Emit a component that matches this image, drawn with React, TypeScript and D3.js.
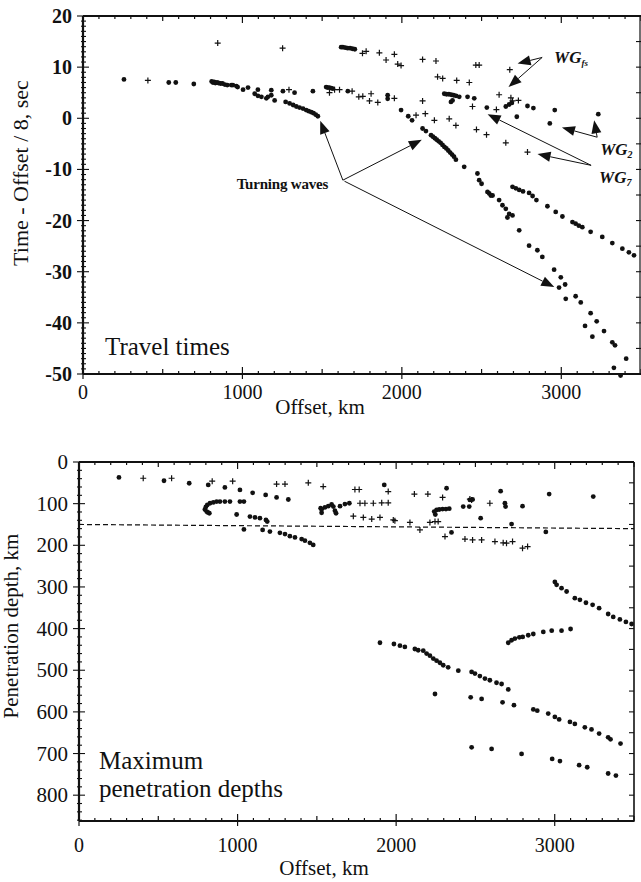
import React from 'react';
import * as d3 from 'd3';

const W = 641;
const H = 882;
const FONT = '"Liberation Serif", "Times New Roman", Times, serif';

// ---- Travel times: [offset km, time - offset/8 (s)] ----
const travelDots: [number, number][] = [
  // first branch
  [257, 7.6], [538, 7.0], [582, 7.0], [695, 6.7], [807, 7.2], [815, 7.0], [822, 7.1], [830, 6.9],
  [840, 7.0], [850, 6.9], [862, 6.8], [875, 6.8], [890, 6.6], [905, 6.5], [930, 6.5], [962, 6.3],
  [940, 6.5], [970, 6.1], [1004, 5.6], [1035, 6.0], [1097, 5.6], [1181, 5.5], [1254, 5.3], [1327, 5.0],
  [1442, 5.3],
  [1077, 4.8], [1097, 4.4], [1119, 4.2], [1150, 3.9], [1160, 4.2], [1181, 4.5], [1202, 3.5], [1271, 3.2],
  [1296, 2.9], [1318, 2.6], [1338, 2.3], [1358, 2.1], [1380, 1.9], [1400, 1.6], [1416, 1.4], [1432, 1.2],
  [1446, 1.0], [1460, 0.7], [1473, 0.4],
  // upper short segment
  [1619, 13.9], [1630, 13.9], [1645, 13.8], [1660, 13.7], [1675, 13.7], [1690, 13.6], [1705, 13.5],
  // middle segment
  [1525, 6.1], [1535, 6.0], [1545, 6.0], [1556, 5.9], [1567, 5.8], [1661, 5.3], [1911, 4.5], [1911, 3.8],
  [1995, 1.6], [2040, 0.4], [2064, -0.4],
  // second turning branch
  [2130, -2.0], [2151, -2.5], [2183, -3.3], [2195, -3.6], [2207, -3.9], [2219, -4.2], [2231, -4.5],
  [2243, -4.8], [2255, -5.2], [2267, -5.6], [2279, -5.9], [2291, -6.3], [2303, -6.7], [2315, -7.1],
  [2327, -7.5], [2339, -8.1], [2391, -9.5], [2474, -10.8], [2485, -12.1], [2500, -12.8], [2537, -14.4],
  [2548, -14.7], [2558, -15.1], [2569, -15.1], [2610, -16.0], [2631, -17.0], [2652, -17.7], [2673, -18.7],
  [2662, -19.4], [2694, -19.0], [2736, -21.9], [2798, -24.9], [2850, -25.8], [2881, -27.1], [2955, -29.6],
  [2997, -31.1], [3024, -32.5], [2986, -33.1], [3028, -35.3], [3090, -34.8], [3122, -36.0], [3184, -38.1],
  [3222, -39.7], [3149, -40.6], [3195, -42.7], [3268, -41.6], [3320, -43.8], [3337, -44.4], [3407, -47.0],
  [3330, -48.8], [3372, -50.3],
  // third segment
  [2266, 4.8], [2280, 4.7], [2295, 4.7], [2310, 4.6], [2325, 4.5], [2340, 4.4], [2360, 4.2], [2412, 4.2],
  [2454, 3.9], [2308, 3.2], [2318, 3.5], [2533, 2.1], [2652, 2.3], [2673, 2.7], [2690, 3.0], [2788, 2.4],
  [2825, 2.0], [2721, 0.3], [2959, 1.6], [2928, -1.0], [3232, 0.8],
  // lower right branch
  [2694, -13.4], [2715, -13.7], [2736, -14.0], [2760, -14.3], [2798, -14.6], [2820, -15.2], [2844, -16.0],
  [2913, -17.2], [2965, -18.3], [3007, -19.2], [3070, -20.3], [3090, -20.6], [3110, -21.0], [3132, -21.3],
  [3184, -22.2], [3257, -23.2], [3320, -24.4], [3383, -25.5], [3424, -26.2], [3456, -26.8],
];

const travelPluses: [number, number][] = [
  [407, 7.4], [845, 14.7], [1252, 13.7], [1292, 5.6],
  [1753, 12.7], [1776, 13.1], [1859, 12.8], [1901, 11.4], [1953, 12.5], [1974, 10.6], [1995, 10.3],
  [2130, 11.5], [2214, 11.2], [2464, 10.4], [2485, 10.4], [2677, 9.5],
  [2224, 8.1], [2256, 7.8], [2344, 7.4], [2423, 7.0],
  [1546, 5.0], [1578, 5.6], [1609, 5.6], [1688, 5.3], [1730, 4.2], [1755, 4.3], [1807, 4.8], [1797, 3.4],
  [1849, 3.1], [1953, 3.9], [2089, 0.6], [2147, 0.9], [2130, 3.4], [2204, -0.4], [2297, -0.1], [2339, -1.4],
  [2443, 2.3], [2593, 1.7], [2610, 4.6], [2684, 4.0], [2731, 3.5], [2694, 3.4],
  [2468, -2.2], [2531, -3.2], [2652, -4.8], [2788, -6.6],
];

// ---- Maximum penetration depths: [offset km, depth km] ----
const depthDots: [number, number][] = [
  [252, 37], [536, 45], [695, 51], [815, 55], [920, 61], [1015, 67], [1095, 74], [1177, 79], [1246, 85],
  [1320, 90],
  [794, 114], [800, 108], [805, 119], [812, 121], [822, 123], [809, 103], [826, 99], [847, 97], [868, 95],
  [889, 95], [920, 95], [952, 95], [1015, 95], [1040, 95],
  [994, 126], [1078, 131], [1110, 133], [1141, 135], [1179, 139], [1187, 143], [1040, 162], [1158, 163],
  [1204, 167], [1267, 170], [1299, 173], [1330, 178], [1362, 181], [1404, 185], [1425, 189], [1456, 194],
  [1477, 199],
  [1524, 111], [1530, 122], [1551, 109], [1572, 106], [1604, 107], [1614, 117], [1621, 123], [1646, 106],
  [1677, 101], [1705, 99], [1530, 114], [1593, 102],
  [2318, 63], [1925, 55], [2659, 70], [2686, 99], [2690, 107], [2797, 106], [2965, 77], [3243, 83],
  [2533, 135], [2728, 149], [2944, 168], [2349, 169],
  [2240, 119], [2247, 126], [2255, 115], [2272, 114], [2293, 113], [2314, 113], [2335, 112],
  [2423, 107], [2461, 107], [2465, 91], [2482, 90],
  [1898, 434], [1986, 437], [2024, 441], [2055, 444], [2118, 449], [2139, 452], [2171, 453], [2192, 460],
  [2213, 465], [2234, 472], [2255, 477], [2276, 482], [2297, 488], [2328, 493], [2392, 501], [2476, 504],
  [2497, 508], [2528, 514], [2560, 520], [2591, 524], [2633, 530], [2665, 533], [2707, 546],
  [2245, 557], [2470, 565], [2539, 569], [2671, 577], [2743, 584], [2865, 594], [2890, 597], [2959, 604],
  [3001, 612], [3028, 618], [3096, 624], [3127, 629], [3190, 637], [3232, 642], [3280, 652], [3337, 661],
  [3352, 666], [3415, 676],
  [2476, 685], [2602, 689], [2791, 701], [2984, 713], [3033, 718], [3154, 728], [3205, 733], [3337, 748],
  [3386, 753],
  [2707, 434], [2728, 428], [2749, 424], [2777, 421], [2798, 420], [2833, 416], [2865, 413], [2928, 408],
  [2981, 405], [3043, 405], [3100, 401],
  [3001, 288], [3012, 295], [3043, 303], [3075, 311], [3127, 327], [3159, 331], [3197, 338], [3239, 343],
  [3280, 351], [3337, 365], [3369, 372], [3411, 378], [3449, 384], [3485, 389],
];

const depthPluses: [number, number][] = [
  [405, 39], [584, 39], [840, 46], [969, 46], [1246, 53], [1299, 53], [1446, 50], [1540, 59], [1740, 66],
  [1767, 66], [1950, 71], [2115, 77], [2200, 77], [2293, 85], [2465, 89], [2476, 91], [2591, 99],
  [1772, 99], [1803, 99], [1856, 99], [1909, 98], [1950, 98],
  [1730, 130], [1793, 133], [1846, 137], [1898, 133], [1982, 139], [1992, 141], [2087, 145], [2150, 163],
  [2213, 145], [2245, 143], [2265, 143], [2308, 179], [2434, 185], [2482, 187], [2539, 187], [2623, 191],
  [2675, 194], [2696, 195], [2734, 191], [2797, 207], [2829, 203],
];

// Reference depth line (dashed)
const depthRefLine: [number, number][] = [[0, 150], [3500, 160]];

const timeTicks = [20, 10, 0, -10, -20, -30, -40, -50];
const depthTicks = [0, 100, 200, 300, 400, 500, 600, 700, 800];
const offsetTicks = [0, 1000, 2000, 3000];

// Annotation arrows in data coordinates: [from, to]
const turningArrows: [[number, number], [number, number]][] = [
  [[1630, -12.1], [1488, -0.5]],
  [[1630, -12.1], [2125, -4.2]],
  [[1640, -12.3], [2956, -33.0]],
];
const wgfsArrows: [[number, number], [number, number]][] = [
  [[2880, 11.9], [2726, 10.7]],
  [[2880, 11.9], [2669, 6.1]],
];
const wg2Arrows: [[number, number], [number, number]][] = [
  [[3225, -3.7], [3004, -1.8]],
  [[3225, -3.7], [3206, -0.4]],
];
const wg7Arrows: [[number, number], [number, number]][] = [
  [[3187, -9.2], [2538, 0.8]],
  [[3187, -9.2], [2851, -7.0]],
];

function Plus({ x, y }: { x: number; y: number }) {
  const s = 3;
  return <path d={`M${x - s},${y}H${x + s}M${x},${y - s}V${y + s}`} stroke="#111" strokeWidth={1.2} fill="none" />;
}

function Arrow({ x1, y1, x2, y2 }: { x1: number; y1: number; x2: number; y2: number }) {
  const a = Math.atan2(y2 - y1, x2 - x1);
  const L = 13, hw = 5;
  const bx = x2 - L * Math.cos(a), by = y2 - L * Math.sin(a);
  const px = -Math.sin(a) * hw, py = Math.cos(a) * hw;
  return (
    <g>
      <line x1={x1} y1={y1} x2={bx} y2={by} stroke="#111" strokeWidth={1} />
      <path d={`M${x2},${y2}L${bx + px},${by + py}L${bx - px},${by - py}Z`} fill="#111" />
    </g>
  );
}

export default function App() {
  // Top panel scales
  const xT = d3.scaleLinear().domain([0, 3500]).range([83, 641]);
  const yT = d3.scaleLinear().domain([-50, 20]).range([374, 16]);
  // Bottom panel scales
  const xB = d3.scaleLinear().domain([0, 3500]).range([79, 634]);
  const yB = d3.scaleLinear().domain([0, 862]).range([462, 821]);

  const line = (sx: any, sy: any) => d3.line<[number, number]>().x((d) => sx(d[0])).y((d) => sy(d[1]));

  const xMinor = d3.range(0, 3501, 100);
  const tMinor = d3.range(-50, 21, 1);
  const tRight = d3.range(-50, 21, 5);
  const dMinor = d3.range(0, 861, 20);
  const dRight = d3.range(0, 861, 50);

  const tickPath = (sx: any, xs: number[], yBottom: number, yTop: number) =>
    xs.map((v) => {
      const major = v % 1000 === 0;
      const mid = v % 500 === 0;
      const len = major ? 7 : mid ? 5 : 3;
      const x = sx(v);
      return (
        <g key={v}>
          <line x1={x} x2={x} y1={yBottom + (major ? 5 : 1)} y2={yBottom - len} stroke="#111" strokeWidth={1.2} />
          <line x1={x} x2={x} y1={yTop} y2={yTop + len} stroke="#111" strokeWidth={1.2} />
        </g>
      );
    });

  return (
    <svg width={W} height={H} style={{ position: 'absolute', left: 0, top: 0, background: '#fff' }} fontFamily={FONT}>
      <rect x={0} y={0} width={W} height={H} fill="#fff" />

      {/* ===== Travel times panel ===== */}
      <g>
        {tickPath(xT, xMinor, yT(-50), yT(20))}
        {tMinor.map((v) => {
          const major = v % 10 === 0;
          const y = yT(v);
          return <line key={v} x1={xT(0) - (major ? 6 : 2)} x2={xT(0) + (major ? 6 : 3)} y1={y} y2={y} stroke="#111" strokeWidth={1.1} />;
        })}
        {tRight.map((v) => (
          <line key={v} x1={xT(3500) - 5} x2={xT(3500)} y1={yT(v)} y2={yT(v)} stroke="#111" strokeWidth={1.1} />
        ))}
        <line x1={xT(0)} x2={xT(3500)} y1={yT(20)} y2={yT(20)} stroke="#111" strokeWidth={2.2} />
        <line x1={xT(0)} x2={xT(3500)} y1={yT(-50)} y2={yT(-50)} stroke="#111" strokeWidth={2.2} />
        <line x1={xT(0)} x2={xT(0)} y1={yT(20)} y2={yT(-50)} stroke="#111" strokeWidth={2.2} />
        <line x1={xT(3500) - 1} x2={xT(3500) - 1} y1={yT(20)} y2={yT(-50)} stroke="#111" strokeWidth={1.2} />

        {timeTicks.map((v) => (
          <text key={v} x={72} y={yT(v) + 7} textAnchor="end" fontSize={20} fontWeight="bold" fill="#111">
            {v}
          </text>
        ))}
        {offsetTicks.map((v) => (
          <text key={v} x={xT(v)} y={399} textAnchor="middle" fontSize={20} fill="#111">
            {v}
          </text>
        ))}
        <text x={320} y={414} textAnchor="middle" fontSize={21} fill="#111">Offset, km</text>
        <text transform={`translate(28,173) rotate(-90)`} textAnchor="middle" fontSize={22} fill="#111">
          Time - Offset / 8, sec
        </text>
        <text x={105} y={355} fontSize={25} fill="#111">Travel times</text>

        {travelDots.map((d, i) => (
          <circle key={i} cx={xT(d[0])} cy={yT(d[1])} r={2.4} fill="#111" />
        ))}
        {travelPluses.map((d, i) => (
          <Plus key={i} x={xT(d[0])} y={yT(d[1])} />
        ))}

        {[...turningArrows, ...wgfsArrows, ...wg2Arrows, ...wg7Arrows].map((a, i) => (
          <Arrow key={i} x1={xT(a[0][0])} y1={yT(a[0][1])} x2={xT(a[1][0])} y2={yT(a[1][1])} />
        ))}

        <text x={xT(964)} y={yT(-13.9)} fontSize={15} fontWeight="bold" fill="#111" letterSpacing={-0.2}>
          Turning waves
        </text>
        <text x={xT(2955)} y={yT(10.8)} fontSize={17} fontWeight="bold" fontStyle="italic" fill="#111">
          WG<tspan dy={3} fontSize={9}>fs</tspan>
        </text>
        <text x={xT(3244)} y={yT(-7.2)} fontSize={17} fontWeight="bold" fontStyle="italic" fill="#111">
          WG<tspan dy={3} fontSize={10}>2</tspan>
        </text>
        <text x={xT(3237)} y={yT(-12.7)} fontSize={17} fontWeight="bold" fontStyle="italic" fill="#111">
          WG<tspan dy={3} fontSize={10}>7</tspan>
        </text>
      </g>

      {/* ===== Penetration depth panel ===== */}
      <g>
        {tickPath(xB, xMinor, yB(862), yB(0))}
        {dMinor.map((v) => {
          const major = v % 100 === 0;
          const y = yB(v);
          return <line key={v} x1={xB(0) - (major ? 6 : 2)} x2={xB(0) + (major ? 6 : 3)} y1={y} y2={y} stroke="#111" strokeWidth={1.1} />;
        })}
        {dRight.map((v) => (
          <line key={v} x1={xB(3500) - 5} x2={xB(3500)} y1={yB(v)} y2={yB(v)} stroke="#111" strokeWidth={1.1} />
        ))}
        <line x1={xB(0)} x2={xB(3500)} y1={yB(0)} y2={yB(0)} stroke="#111" strokeWidth={2.2} />
        <line x1={xB(0)} x2={xB(3500)} y1={yB(862)} y2={yB(862)} stroke="#111" strokeWidth={2.2} />
        <line x1={xB(0)} x2={xB(0)} y1={yB(0)} y2={yB(862)} stroke="#111" strokeWidth={2.2} />
        <line x1={xB(3500)} x2={xB(3500)} y1={yB(0)} y2={yB(862)} stroke="#111" strokeWidth={1.6} />

        {depthTicks.map((v) => (
          <text key={v} x={68} y={yB(v) + 7} textAnchor="end" fontSize={21} fill="#111">
            {v}
          </text>
        ))}
        {offsetTicks.map((v) => (
          <text key={v} x={xB(v)} y={852} textAnchor="middle" fontSize={20} fill="#111">
            {v}
          </text>
        ))}
        <text x={324} y={875} textAnchor="middle" fontSize={21} fill="#111">Offset, km</text>
        <text transform={`translate(18,626) rotate(-90)`} textAnchor="middle" fontSize={21} fill="#111">
          Penetration depth, km
        </text>
        <text x={99} y={769} fontSize={25} fill="#111">Maximum</text>
        <text x={99} y={797} fontSize={25} fill="#111">penetration depths</text>

        <path d={line(xB, yB)(depthRefLine) || ''} stroke="#111" strokeWidth={1.2} strokeDasharray="5,3" fill="none" />

        {depthDots.map((d, i) => (
          <circle key={i} cx={xB(d[0])} cy={yB(d[1])} r={2.4} fill="#111" />
        ))}
        {depthPluses.map((d, i) => (
          <Plus key={i} x={xB(d[0])} y={yB(d[1])} />
        ))}
      </g>
    </svg>
  );
}
